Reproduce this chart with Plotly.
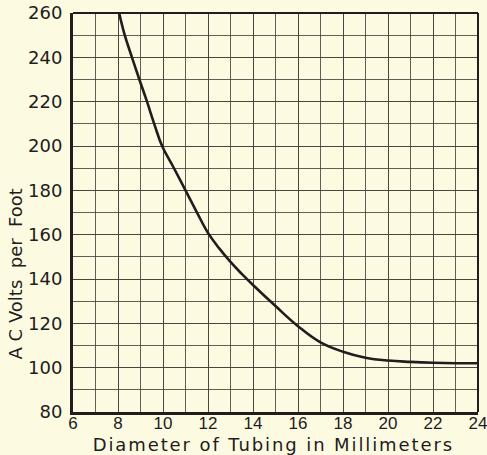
import plotly.graph_objects as go

diameter_mm = [8.05, 8.3, 8.62, 8.95, 9.29, 9.61, 9.96, 10.47, 11, 11.5, 12, 12.5, 13,
               13.5, 14, 15, 16, 17, 18, 19, 20, 21, 22, 23, 24]
volts_per_foot = [260, 250, 240, 230, 220, 210, 200, 190.3, 180, 170.2, 160.8, 153.8, 147.7,
                  142.3, 137.3, 127.8, 118.7, 111.4, 107.2, 104.5, 103.2, 102.6, 102.2, 102, 102]

x_tick_vals = [6, 8, 10, 12, 14, 16, 18, 20, 22, 24]
y_tick_vals = [80, 100, 120, 140, 160, 180, 200, 220, 240, 260]

x_title = "Diameter of Tubing in Millimeters"
y_title = "A C Volts\u00a0 per\u00a0 Foot"

ink = "#221c1c"
paper = "#fcfbe1"
grid = "rgba(70,66,60,0.85)"

fig = go.Figure()
fig.add_trace(go.Scatter(
    x=diameter_mm, y=volts_per_foot, mode="lines",
    line=dict(color=ink, width=2.6, shape="spline", smoothing=1.2),
    hoverinfo="skip", showlegend=False,
))

fig.update_layout(
    width=487, height=455,
    margin=dict(l=73, r=9, t=13, b=43, autoexpand=False),
    paper_bgcolor=paper, plot_bgcolor=paper,
    font=dict(family="DejaVu Sans", color=ink),
    xaxis=dict(
        range=[6, 24], tickvals=x_tick_vals, ticktext=[str(v) for v in x_tick_vals],
        showgrid=True, gridcolor=grid, gridwidth=1,
        minor=dict(dtick=1, showgrid=True, gridcolor=grid, gridwidth=1),
        showline=True, linecolor=ink, linewidth=3, zeroline=False,
        ticks="", tickfont=dict(family="Liberation Sans", size=17, color=ink),
        ticklabelstandoff=-6, ticklabeloverflow="allow", automargin=False,
    ),
    yaxis=dict(
        range=[80, 260], tickvals=y_tick_vals, ticktext=[str(v) for v in y_tick_vals],
        showgrid=True, gridcolor=grid, gridwidth=1,
        minor=dict(dtick=10, showgrid=True, gridcolor=grid, gridwidth=1),
        showline=True, linecolor=ink, linewidth=3, zeroline=False,
        ticks="", tickfont=dict(family="DejaVu Sans", size=18, color=ink),
        ticklabelstandoff=4, ticklabeloverflow="allow", automargin=False,
    ),
    shapes=[
        dict(type="line", xref="paper", yref="paper", x0=0, x1=1, y0=1, y1=1,
             line=dict(color=ink, width=2)),
        dict(type="line", xref="paper", yref="paper", x0=1, x1=1, y0=0, y1=1,
             line=dict(color=ink, width=2)),
    ],
    annotations=[
        dict(text=x_title, xref="paper", yref="paper", x=0.494, y=-0.082,
             showarrow=False, xanchor="center", yanchor="middle",
             font=dict(family="DejaVu Sans", size=18, color=ink)),
        dict(text=y_title, xref="paper", yref="paper", x=-0.143, y=0.345,
             showarrow=False, xanchor="center", yanchor="middle", textangle=-90,
             font=dict(family="DejaVu Sans", size=18, color=ink)),
    ],
)

fig.write_html(
    "out.html",
    config={"displayModeBar": False, "staticPlot": True},
    post_script="document.body.style.margin='0';document.body.style.overflow='hidden';"
                "document.body.style.background='" + paper + "';"
                "var t=document.querySelectorAll('text.annotation-text');"
                "if(t.length){t[0].style.letterSpacing='1.9px';}",
)
